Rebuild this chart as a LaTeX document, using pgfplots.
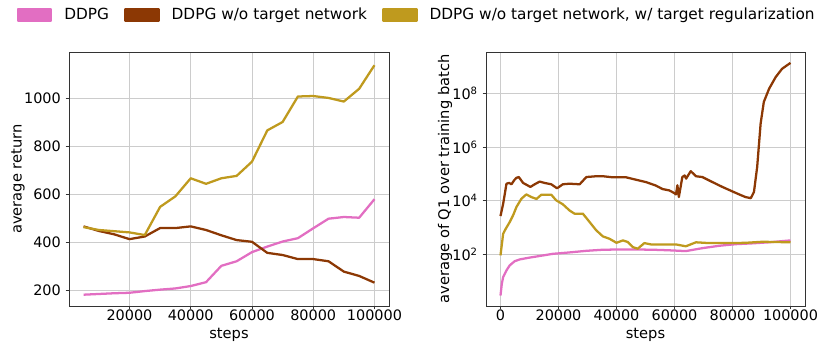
\documentclass[border=0pt]{standalone}
\usepackage{fontspec}
\setmainfont{DejaVu Sans}
\usepackage{pgfplots}
\pgfplotsset{compat=1.18}

\definecolor{pinkc}{RGB}{226,110,194}
\definecolor{brownc}{RGB}{140,56,4}
\definecolor{goldc}{RGB}{191,154,30}

\pgfplotsset{
  myaxis/.style={
    scale only axis,
    height=190.5pt,
    grid=major,
    grid style={gray!40, line width=0.6pt},
    axis line style={black!80, line width=0.6pt},
    tick align=outside,
    tick pos=left,
    major tick length=2.6pt,
    every tick/.style={black!80, line width=0.6pt},
    tick label style={font=\fontsize{10.8}{13}\selectfont},
    xticklabel style={yshift=3.2pt},
    label style={font=\fontsize{11}{13}\selectfont},
    /pgf/number format/.cd, fixed, precision=0, assume math mode=true,
      set thousands separator={}, /pgfplots/.cd,
    scaled ticks=false,
    xlabel={steps},
    xlabel style={at={(axis description cs:0.5,-0.112)}, anchor=center},
    every axis plot/.append style={line width=1.7pt, line join=round, mark=none},
  },
}

\begin{document}
\begin{tikzpicture}
\useasboundingbox (-51.75pt,-30.75pt) rectangle (571.5pt,229.5pt);

% left: average return
\begin{axis}[
  myaxis,
  width=240pt,
  xmin=250, xmax=104750,
  ymin=135, ymax=1191,
  xtick={20000,40000,60000,80000,100000},
  ytick={200,400,600,800,1000},
  ylabel={average return},
  ylabel style={at={(axis description cs:-0.159,0.5)}, anchor=center},
  legend columns=3,
  legend style={at={(1.084,1.1457)}, anchor=center, draw=none, fill=none,
    font=\fontsize{11.5}{14}\selectfont,
    nodes={inner xsep=0pt, inner ysep=1pt},
    /tikz/every odd column/.append style={column sep=9pt},
    /tikz/every even column/.append style={column sep=11.5pt}},
  legend image code/.code={\fill[#1] (0pt,-4.5pt) rectangle (24.75pt,4.5pt);},
]
\addplot[color=pinkc] coordinates {
  (5000,182) (10000,185) (15000,188) (20000,190) (25000,197) (30000,203)
  (35000,208) (40000,218) (45000,234) (50000,302) (55000,321) (60000,359)
  (65000,382) (70000,403) (75000,417) (80000,458) (85000,498) (90000,505)
  (95000,502) (100000,579)
};
\addlegendentry{DDPG}
\addplot[color=brownc] coordinates {
  (5000,466) (10000,447) (15000,433) (20000,413) (25000,424) (30000,459)
  (35000,459) (40000,466) (45000,451) (50000,429) (55000,409) (60000,402)
  (65000,356) (70000,347) (75000,330) (80000,330) (85000,321) (90000,278)
  (95000,260) (100000,232)
};
\addlegendentry{DDPG w/o target network}
\addplot[color=goldc] coordinates {
  (5000,463) (10000,451) (15000,446) (20000,441) (25000,430) (30000,547)
  (35000,591) (40000,666) (45000,643) (50000,666) (55000,676) (60000,735)
  (65000,865) (70000,900) (75000,1006) (80000,1008) (85000,1000) (90000,985)
  (95000,1038) (100000,1136)
};
\addlegendentry{DDPG w/o target network, w/ target regularization}
\end{axis}

% right: average of Q1
\begin{axis}[
  myaxis,
  at={(312.75pt,0pt)},
  width=239.25pt,
  ymode=log,
  xmin=-5000, xmax=105000,
  ymin=1.14, ymax=3.6e9,
  xtick={0,20000,40000,60000,80000,100000},
  ytick={1e2,1e4,1e6,1e8},
  yticklabels={10\textsuperscript{2},10\textsuperscript{4},10\textsuperscript{6},10\textsuperscript{8}},
  yminorticks=false,
  ylabel={average of Q1 over training batch},
  ylabel style={at={(axis description cs:-0.1285,0.5)}, anchor=center},
]
\addplot[color=pinkc] coordinates {
  (0,2.8) (460,7.8) (916,13.8) (2060,24.5) (3200,38) (4900,54) (6650,63)
  (9500,72) (12400,81) (18100,102) (23800,115) (29600,132) (35300,145)
  (41000,148) (46700,148) (52500,145) (58200,138) (63900,129) (69600,166)
  (75400,204) (81100,234) (86800,251) (92600,275) (100000,324)
};
\addplot[color=brownc] coordinates {
  (0,2630) (916,7590) (2060,42700) (2980,45700) (3780,40700) (4700,57500)
  (5500,70800) (6300,75900) (7790,45700) (10300,32400) (11800,40700)
  (13500,51300) (15200,45700) (17500,40700) (19500,28800) (21500,40700)
  (23800,42700) (27300,40700) (29600,75900) (33000,81300) (35300,81300)
  (38700,74100) (43300,74100) (46700,60300) (50200,49000) (53600,36300)
  (55900,26900) (58200,24000) (59900,19100) (60500,17000) (61000,37200)
  (61500,13500) (62700,75900) (63500,87100) (64000,66100) (65600,126000)
  (67400,81300) (69600,75900) (73100,49000) (76500,32400) (80000,21900)
  (82300,17000) (84500,13500) (86300,12300) (87400,20900) (88500,178000)
  (89700,7.59e6) (90800,4.9e7) (92600,1.51e8) (94900,4.17e8) (97100,8.51e8)
  (100000,1.41e9)
};
\addplot[color=goldc] coordinates {
  (0,89) (916,575) (1830,891) (3200,1585) (4350,2820) (5500,5750)
  (7200,11700) (8900,17000) (10650,13500) (12400,11500) (14100,16600)
  (17500,16600) (19200,10200) (21500,7240) (23800,4270) (25500,3240)
  (28400,3240) (30700,1585) (33000,776) (35300,457) (37600,372) (40000,263)
  (42200,324) (43900,282) (45600,182) (47300,158) (49600,257) (51900,229)
  (55900,229) (60500,229) (63900,195) (67400,275) (71900,257) (78800,257)
  (84500,263) (90300,288) (100000,275)
};
\end{axis}
\end{tikzpicture}
\end{document}
